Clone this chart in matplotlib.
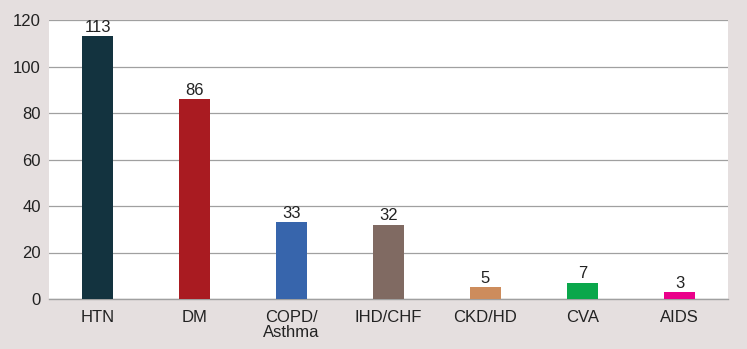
import matplotlib
matplotlib.use("Agg")
import matplotlib.pyplot as plt

# Data
categories = ["HTN", "DM", "COPD/\nAsthma", "IHD/CHF", "CKD/HD", "CVA", "AIDS"]
counts = [113, 86, 33, 32, 5, 7, 3]
colors = ["#13333f", "#a91b21", "#3765ac", "#806a62", "#cd8c5c", "#0aa74b", "#ea008a"]
yticks = [0, 20, 40, 60, 80, 100, 120]

plt.rcParams["font.family"] = ["Liberation Sans", "DejaVu Sans"]

fig = plt.figure(figsize=(7.47, 3.49), dpi=100, facecolor="#e5dfdf")
ax = fig.add_axes([49 / 747, 50 / 349, 679 / 747, 279 / 349])
ax.set_facecolor("white")

x = range(len(categories))
bars = ax.bar(x, counts, width=0.31, color=colors, zorder=3)
for b, v in zip(bars, counts):
    ax.text(b.get_x() + b.get_width() / 2, v + 0.6, str(v),
            ha="center", va="bottom", fontsize=12, color="#222222", zorder=4)

ax.set_xlim(-0.5, len(categories) - 0.5)
ax.set_ylim(0, 120)
ax.set_yticks(yticks)
ax.set_xticks(list(x))
ax.set_xticklabels(categories, fontsize=12, color="#222222", linespacing=1.0)
ax.tick_params(axis="y", length=0, pad=6, labelsize=12, labelcolor="#222222")
ax.tick_params(axis="x", length=0, pad=8)
ax.yaxis.grid(True, color="#a0a0a0", linewidth=0.9, zorder=1)
for s in ["left", "right", "top"]:
    ax.spines[s].set_visible(False)
ax.spines["bottom"].set_color("#a0a0a0")
ax.spines["bottom"].set_linewidth(1.0)

fig.savefig("out.png", dpi=100, facecolor=fig.get_facecolor())
